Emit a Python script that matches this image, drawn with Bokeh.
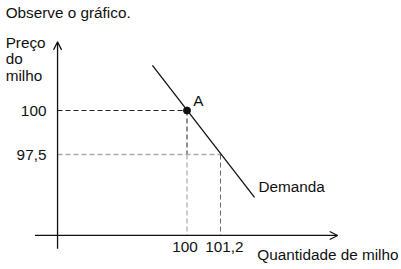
from bokeh.plotting import figure
from bokeh.models import Range1d, Arrow, OpenHead, Label
from bokeh.embed import file_html
from bokeh.resources import INLINE

# Demand curve for corn (quantity, price)
demand_q = [98.76, 102.42]
demand_p = [102.56, 95.06]

# Point A and the second reference point on the curve
point_q = [100.0]
point_p = [100.0]
q_ticks = [100.0, 101.2]
q_tick_labels = ["100", "101,2"]
p_ticks = [100.0, 97.5]
p_tick_labels = ["100", "97,5"]

# Where the drawn axes cross
origin_q = 95.36
origin_p = 92.90

FONT = "Liberation Sans"
INK = "#111111"

p = figure(width=401, height=269, output_backend="svg", toolbar_location=None,
           x_range=Range1d(93.315, 107.688), y_range=Range1d(90.966, 106.25),
           min_border=0, outline_line_color=None)
p.axis.visible = False
p.grid.visible = False
p.background_fill_color = "white"
p.border_fill_color = "white"

# Axes drawn as arrows
p.add_layout(Arrow(end=OpenHead(size=8, line_width=1.2, line_color=INK),
                   x_start=94.55, y_start=origin_p, x_end=105.4, y_end=origin_p,
                   line_width=1.3, line_color=INK))
p.add_layout(Arrow(end=OpenHead(size=8, line_width=1.2, line_color=INK),
                   x_start=origin_q, y_start=92.15, x_end=origin_q, y_end=103.9,
                   line_width=1.3, line_color=INK))

# Guide lines for the two points
p.line([origin_q, q_ticks[0]], [p_ticks[0], p_ticks[0]], line_color="#222222",
       line_dash="5 3", line_width=1)
p.line([q_ticks[0], q_ticks[0]], [p_ticks[0], p_ticks[1]], line_color="#222222",
       line_dash="5 3", line_width=1)
p.line([q_ticks[0], q_ticks[0]], [p_ticks[1], origin_p], line_color="#999999",
       line_dash="5 3", line_width=1)
p.line([origin_q, q_ticks[1]], [p_ticks[1], p_ticks[1]], line_color="#aaaaaa",
       line_dash="5 3", line_width=1.3)
p.line([q_ticks[1], q_ticks[1]], [p_ticks[1], origin_p], line_color="#666666",
       line_dash="5 3", line_width=1)

# Demand line and point A
p.line(demand_q, demand_p, line_color=INK, line_width=1.3)
p.scatter(point_q, point_p, size=7, color=INK)

def label(x, y, text, align="left", baseline="middle", **kw):
    p.add_layout(Label(x=x, y=y, text=text, text_font=FONT, text_font_size="15.3px",
                       text_color=INK, text_align=align, text_baseline=baseline, **kw))

for v, t in zip(p_ticks, p_tick_labels):
    label(origin_q - 0.4, v, t, align="right")
# spread the two quantity labels apart a little so they don't touch
for v, t, dx in zip(q_ticks, q_tick_labels, [-2, 4]):
    label(v, origin_p - 0.68, t, align="center", x_offset=dx)

label(100.22, 100.55, "A", baseline="middle")
label(102.56, 95.68, "Demanda")
label(102.52, 91.82, "Quantidade de milho")
label(93.5, 103.85, "Preço")
label(93.5, 102.93, "do")
label(93.5, 101.98, "milho")
label(93.5, 105.55, "Observe o gráfico.")

open("out.html", "w").write(file_html(p, INLINE))
